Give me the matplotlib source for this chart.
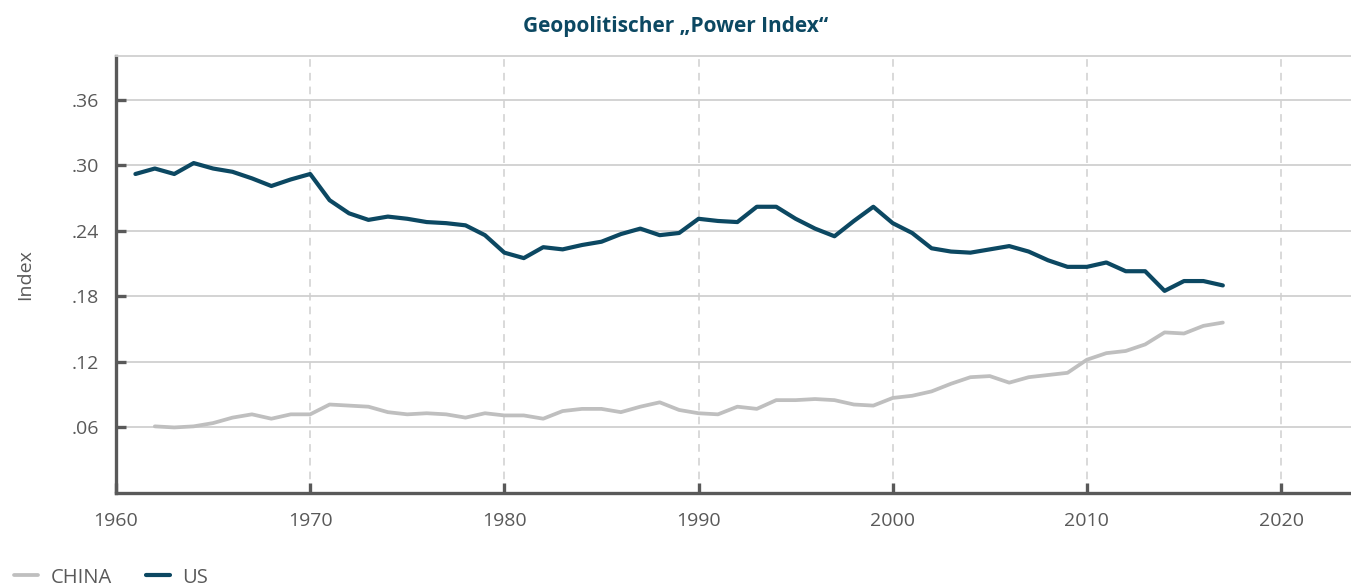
import matplotlib
matplotlib.use("Agg")
import matplotlib.pyplot as plt
from matplotlib.ticker import FuncFormatter

plt.rcParams["font.family"] = ["Open Sans", "DejaVu Sans"]

# Geopolitical power index, share per year
us_years = list(range(1961, 2018))
us_index = [
    0.292, 0.297, 0.292, 0.302, 0.297, 0.294, 0.288, 0.281, 0.287, 0.292,
    0.268, 0.256, 0.250, 0.253, 0.251, 0.248, 0.247, 0.245, 0.236, 0.220,
    0.215, 0.225, 0.223, 0.227, 0.230, 0.237, 0.242, 0.236, 0.238, 0.251,
    0.249, 0.248, 0.262, 0.262, 0.251, 0.242, 0.235, 0.249, 0.262, 0.247,
    0.238, 0.224, 0.221, 0.220, 0.223, 0.226, 0.221, 0.213, 0.207, 0.207,
    0.211, 0.203, 0.203, 0.185, 0.194, 0.194, 0.190,
]
china_years = list(range(1962, 2018))
china_index = [
    0.061, 0.060, 0.061, 0.064, 0.069, 0.072, 0.068, 0.072, 0.072, 0.081,
    0.080, 0.079, 0.074, 0.072, 0.073, 0.072, 0.069, 0.073, 0.071, 0.071,
    0.068, 0.075, 0.077, 0.077, 0.074, 0.079, 0.083, 0.076, 0.073, 0.072,
    0.079, 0.077, 0.085, 0.085, 0.086, 0.085, 0.081, 0.080, 0.087, 0.089,
    0.093, 0.100, 0.106, 0.107, 0.101, 0.106, 0.108, 0.110, 0.122, 0.128,
    0.130, 0.136, 0.147, 0.146, 0.153, 0.156,
]

x_ticks = [1960, 1970, 1980, 1990, 2000, 2010, 2020]
y_ticks = [0.06, 0.12, 0.18, 0.24, 0.30, 0.36]

US_COLOR = "#0c4862"
CHINA_COLOR = "#bfbfbf"
AXIS_COLOR = "#595959"
GRID_COLOR = "#d0d0d0"

fig = plt.figure(figsize=(13.51, 5.88), dpi=100)
ax = fig.add_axes([116 / 1351, 1 - 493 / 588, 1 - 116 / 1351, (493 - 56) / 588])

ax.plot(china_years, china_index, color=CHINA_COLOR, lw=2.7, label="CHINA",
        solid_joinstyle="round", solid_capstyle="round")
ax.plot(us_years, us_index, color=US_COLOR, lw=3.0, label="US",
        solid_joinstyle="round", solid_capstyle="round")

ax.set_xlim(1960, 2023.6)
ax.set_ylim(0, 0.40)
ax.set_xticks(x_ticks)
ax.set_yticks(y_ticks)
ax.yaxis.set_major_formatter(FuncFormatter(lambda v, _: f"{v:.2f}".lstrip("0")))

ax.grid(axis="y", color=GRID_COLOR, lw=1.3, ls="-")
ax.grid(axis="x", color=GRID_COLOR, lw=1.1, ls=(0, (5, 4)))
ax.set_axisbelow(True)

for side in ("left", "bottom"):
    ax.spines[side].set_color(AXIS_COLOR)
    ax.spines[side].set_linewidth(2.4)
ax.spines["top"].set_color(GRID_COLOR)
ax.spines["top"].set_linewidth(1.3)
ax.spines["right"].set_visible(False)

ax.tick_params(axis="both", direction="in", length=7, width=2.4, color=AXIS_COLOR,
               labelcolor=AXIS_COLOR, labelsize=14)
ax.tick_params(axis="x", pad=14)
ax.tick_params(axis="y", pad=12)

ax.set_ylabel("Index", fontsize=14, color=AXIS_COLOR, labelpad=27)

fig.text(0.5, 0.955, "Geopolitischer „Power Index“", ha="center", va="center",
         fontsize=15, fontweight="bold", color=US_COLOR)

fig.legend(loc="lower left", bbox_to_anchor=(-0.003, -0.03), ncol=2, frameon=False,
           fontsize=14.5, labelcolor=AXIS_COLOR, handlelength=1.2, handletextpad=0.6,
           columnspacing=1.7)

fig.savefig("out.png", dpi=100)
